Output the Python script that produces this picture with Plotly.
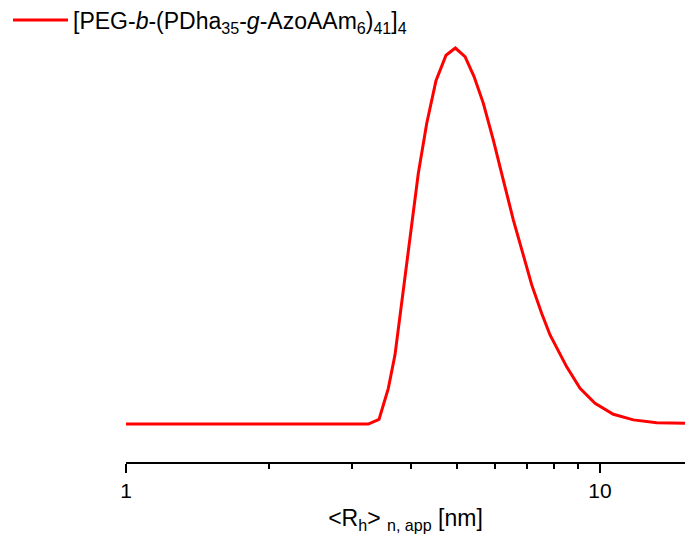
import plotly.graph_objects as go

# Apparent hydrodynamic radius (nm) and normalized distribution
rh = [1.0, 2.969, 3.245, 3.418, 3.576, 3.694, 3.846, 3.974, 4.137, 4.310, 4.508,
      4.733, 4.952, 5.191, 5.423, 5.674, 5.956, 6.252, 6.563, 6.890, 7.177,
      7.534, 7.845, 8.506, 9.075, 9.760, 10.67, 11.76, 13.17, 15.11]
dist = [0.0, 0.0, 0.0, 0.0125, 0.095, 0.184, 0.356, 0.498, 0.667, 0.80, 0.913,
        0.981, 1.0, 0.977, 0.924, 0.853, 0.755, 0.649, 0.543, 0.449, 0.370,
        0.294, 0.237, 0.152, 0.095, 0.055, 0.026, 0.011, 0.0035, 0.002]
series_name = "[PEG-<i>b</i>-(PDha<sub>35</sub>-<i>g</i>-AzoAAm<sub>6</sub>)<sub>41</sub>]<sub>4</sub>"
major_ticks = [1, 10]
major_labels = ["1", "10"]
minor_ticks = [2, 3, 4, 5, 6, 7, 8, 9]

FONT = "Liberation Sans, Arial, sans-serif"

W, H = 685, 539
B = 77
paper_h = H - B

fig = go.Figure()
fig.add_trace(go.Scatter(
    x=rh, y=dist, mode="lines", name=series_name,
    line=dict(color="#ff0000", width=3),
))

fig.update_layout(
    width=W, height=H,
    margin=dict(l=0, r=0, t=0, b=B, autoexpand=False),
    paper_bgcolor="white", plot_bgcolor="white",
    font=dict(family=FONT, size=21, color="black"),
    showlegend=True,
    legend=dict(
        x=8 / W, y=1 - 20 / paper_h, xanchor="left", yanchor="middle",
        font=dict(family=FONT, size=23, color="black"),
        itemwidth=55, bgcolor="rgba(0,0,0,0)",
    ),
    xaxis=dict(
        type="log", range=[0, 1.1793], domain=[126 / W, 1],
        showgrid=False, zeroline=False,
        showline=True, linecolor="black", linewidth=1.5,
        ticks="outside", ticklen=9, tickwidth=1.5, tickcolor="black",
        tickvals=major_ticks, ticktext=major_labels,
        tickfont=dict(family=FONT, size=21),
        minor=dict(tickvals=minor_ticks, ticks="outside", ticklen=5,
                   tickwidth=1.5, tickcolor="black", showgrid=False),
        title=dict(text="&lt;R<sub>h</sub>&gt; <sub>n, app</sub> [nm]",
                   font=dict(family=FONT, size=23), standoff=9),
    ),
    yaxis=dict(
        range=[-0.101, 1.048], domain=[0, 432 / paper_h],
        visible=False, showgrid=False, zeroline=False,
    ),
)

fig.write_html("out.html", config={"displayModeBar": False},
               post_script="document.body.style.margin='0px';")
